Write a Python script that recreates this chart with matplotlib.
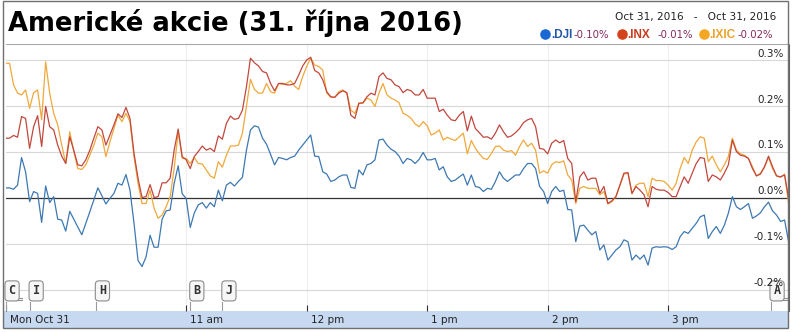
import numpy as np
import matplotlib.pyplot as plt
from matplotlib.patches import Rectangle
from matplotlib.lines import Line2D

W, H = 794, 332

# minutes after the 9:30 open, one quote every 2 minutes
minutes = np.arange(0, 392, 2)

# % change vs previous close
dji = [0.022, 0.022, 0.019, 0.028, 0.088, 0.057, -0.008, 0.014, 0.010, -0.053,
       0.026, -0.010, 0.003, -0.046, -0.048, -0.072, -0.029, -0.046, -0.063, -0.080,
       -0.055, -0.030, -0.004, 0.022, 0.005, -0.013, -0.001, 0.010, 0.032, 0.028,
       0.051, 0.017, -0.055, -0.136, -0.149, -0.128, -0.081, -0.107, -0.107, -0.046,
       -0.028, -0.026, 0.032, 0.070, 0.009, -0.001, -0.064, -0.033, -0.015, -0.010,
       -0.022, -0.010, -0.019, 0.017, -0.006, 0.028, 0.034, 0.026, 0.036, 0.045,
       0.104, 0.148, 0.157, 0.154, 0.130, 0.117, 0.095, 0.072, 0.088, 0.086,
       0.083, 0.088, 0.091, 0.104, 0.115, 0.126, 0.137, 0.091, 0.090, 0.057,
       0.052, 0.036, 0.039, 0.046, 0.050, 0.050, 0.023, 0.021, 0.061, 0.050,
       0.072, 0.075, 0.083, 0.126, 0.128, 0.115, 0.106, 0.101, 0.091, 0.075,
       0.086, 0.083, 0.075, 0.084, 0.099, 0.083, 0.083, 0.086, 0.061, 0.068,
       0.046, 0.036, 0.039, 0.046, 0.052, 0.028, 0.050, 0.025, 0.023, 0.014,
       0.021, 0.019, 0.036, 0.057, 0.043, 0.036, 0.043, 0.050, 0.050, 0.064,
       0.075, 0.075, 0.064, 0.025, 0.014, -0.012, 0.014, 0.025, 0.014, 0.017,
       -0.025, -0.026, -0.095, -0.061, -0.059, -0.070, -0.080, -0.073, -0.113, -0.102,
       -0.135, -0.124, -0.113, -0.106, -0.091, -0.095, -0.135, -0.124, -0.133, -0.124,
       -0.146, -0.109, -0.106, -0.107, -0.106, -0.107, -0.112, -0.106, -0.084, -0.073,
       -0.077, -0.066, -0.055, -0.041, -0.037, -0.088, -0.073, -0.062, -0.077, -0.059,
       -0.033, 0.003, -0.019, -0.025, -0.019, -0.012, -0.044, -0.039, -0.032, -0.019,
       -0.009, -0.028, -0.037, -0.051, -0.048, -0.095]

inx = [0.130, 0.130, 0.136, 0.132, 0.177, 0.173, 0.108, 0.155, 0.179, 0.112,
       0.199, 0.155, 0.148, 0.115, 0.091, 0.075, 0.133, 0.104, 0.072, 0.070,
       0.083, 0.104, 0.130, 0.155, 0.148, 0.115, 0.137, 0.159, 0.183, 0.175,
       0.197, 0.173, 0.097, 0.043, 0.001, 0.003, 0.029, 0.001, 0.003, 0.033,
       0.033, 0.043, 0.104, 0.150, 0.090, 0.083, 0.064, 0.090, 0.101, 0.113,
       0.104, 0.108, 0.101, 0.135, 0.128, 0.162, 0.178, 0.171, 0.173, 0.191,
       0.242, 0.304, 0.294, 0.287, 0.275, 0.272, 0.249, 0.233, 0.249, 0.249,
       0.246, 0.246, 0.249, 0.267, 0.287, 0.300, 0.306, 0.277, 0.272, 0.257,
       0.231, 0.220, 0.219, 0.228, 0.233, 0.229, 0.180, 0.173, 0.206, 0.207,
       0.220, 0.228, 0.224, 0.264, 0.272, 0.260, 0.257, 0.246, 0.242, 0.229,
       0.236, 0.233, 0.224, 0.224, 0.236, 0.217, 0.217, 0.217, 0.188, 0.193,
       0.180, 0.170, 0.168, 0.180, 0.188, 0.146, 0.178, 0.151, 0.142, 0.132,
       0.133, 0.128, 0.141, 0.159, 0.144, 0.132, 0.135, 0.142, 0.151, 0.164,
       0.170, 0.173, 0.155, 0.108, 0.106, 0.096, 0.119, 0.126, 0.120, 0.125,
       0.086, 0.075, -0.008, 0.046, 0.057, 0.039, 0.043, 0.043, 0.010, 0.025,
       -0.012, -0.006, 0.003, 0.028, 0.054, 0.055, 0.010, 0.025, 0.017, 0.007,
       -0.019, 0.025, 0.019, 0.017, 0.017, 0.012, 0.003, 0.003, 0.025, 0.046,
       0.032, 0.054, 0.075, 0.088, 0.086, 0.036, 0.050, 0.046, 0.039, 0.054,
       0.072, 0.126, 0.101, 0.093, 0.091, 0.086, 0.064, 0.048, 0.052, 0.068,
       0.091, 0.068, 0.048, 0.046, 0.050, -0.001]

ixic = [0.293, 0.293, 0.246, 0.228, 0.224, 0.235, 0.195, 0.229, 0.235, 0.170,
        0.296, 0.228, 0.184, 0.159, 0.115, 0.075, 0.144, 0.101, 0.064, 0.062,
        0.072, 0.093, 0.115, 0.141, 0.133, 0.090, 0.122, 0.151, 0.180, 0.166,
        0.184, 0.166, 0.090, 0.032, -0.012, -0.012, 0.017, -0.022, -0.044, -0.037,
        -0.019, 0.003, 0.064, 0.144, 0.086, 0.086, 0.075, 0.088, 0.075, 0.074,
        0.061, 0.048, 0.043, 0.079, 0.067, 0.093, 0.113, 0.113, 0.115, 0.141,
        0.199, 0.258, 0.236, 0.228, 0.228, 0.249, 0.231, 0.228, 0.249, 0.247,
        0.249, 0.255, 0.243, 0.236, 0.264, 0.286, 0.304, 0.289, 0.286, 0.278,
        0.228, 0.219, 0.219, 0.231, 0.235, 0.228, 0.191, 0.184, 0.206, 0.206,
        0.217, 0.213, 0.199, 0.228, 0.249, 0.224, 0.217, 0.213, 0.207, 0.184,
        0.180, 0.173, 0.161, 0.155, 0.166, 0.157, 0.137, 0.141, 0.148, 0.126,
        0.132, 0.128, 0.125, 0.133, 0.141, 0.096, 0.125, 0.108, 0.096, 0.086,
        0.084, 0.097, 0.112, 0.113, 0.104, 0.101, 0.103, 0.093, 0.112, 0.126,
        0.112, 0.119, 0.104, 0.054, 0.059, 0.054, 0.072, 0.079, 0.077, 0.081,
        0.050, 0.039, -0.012, 0.021, 0.025, 0.021, 0.021, 0.021, 0.007, 0.014,
        -0.013, -0.008, 0.003, 0.028, 0.052, 0.054, 0.009, 0.028, 0.032, 0.032,
        0.003, 0.043, 0.038, 0.038, 0.036, 0.028, 0.017, 0.032, 0.064, 0.088,
        0.075, 0.104, 0.122, 0.133, 0.130, 0.079, 0.091, 0.072, 0.057, 0.072,
        0.090, 0.130, 0.104, 0.096, 0.093, 0.086, 0.068, 0.048, 0.054, 0.067,
        0.088, 0.064, 0.048, 0.045, 0.052, -0.012]

hour_ticks = [0, 90, 150, 210, 270, 330]
hour_labels = ["Mon Oct 31", "11 am", "12 pm", "1 pm", "2 pm", "3 pm"]
y_ticks = [0.3, 0.2, 0.1, 0.0, -0.1, -0.2]
y_labels = ["0.3%", "0.2%", "0.1%", "0.0%", "-0.1%", "-0.2%"]

# news flags (minute, letter, stacked?)
flag_times = [0, 12, 45, 92, 108, 381]
flag_letters = ["C", "I", "H", "B", "J", "A"]
flag_stacked = [True, False, False, False, False, True]

legend_names = [".DJI", ".INX", ".IXIC"]
legend_changes = ["-0.10%", "-0.01%", "-0.02%"]

title = "Americké akcie (31. října 2016)"
date_range = "Oct 31, 2016   -   Oct 31, 2016"

line_colors = ["#3d78b2", "#c2473d", "#f0a83a"]
dot_colors = ["#1967d2", "#d4431b", "#f5a623"]
name_colors = ["#2356a8", "#c83b1c", "#eba12a"]
pct_color = "#84285c"
# legend pixel layout: dot centre, name start, change start
legend_px = [(545, 551.5, 574), (621.5, 627.5, 657), (703.5, 709.5, 737.5)]


def fx(px):
    return px / W


def fy(py):
    return 1 - py / H


fig = plt.figure(figsize=(W / 100, H / 100), dpi=100)
ax = fig.add_axes([fx(5.5), fy(311), fx(788.6) - fx(5.5), fy(44) - fy(311)])
ax.set_xlim(0, 390)
ax.set_ylim(-0.2457, 0.3348)

# grid
for v in y_ticks:
    if v == 0:
        ax.axhline(v, color="#333333", lw=0.9, zorder=2)
    else:
        ax.axhline(v, color="#d8d8d8", lw=0.8, zorder=1)
for t in hour_ticks[1:]:
    ax.axvline(t, color="#eeeeee", lw=0.8, zorder=0)

ax.plot(minutes, dji, color=line_colors[0], lw=0.9, zorder=3)
ax.plot(minutes, ixic, color=line_colors[2], lw=0.9, zorder=3)
ax.plot(minutes, inx, color=line_colors[1], lw=0.9, zorder=3)

ax.set_xticks(hour_ticks)
ax.set_yticks([])
ax.tick_params(axis="x", direction="in", length=4, width=0.8, color="#333333",
               labelbottom=False)
for s in ["left", "bottom"]:
    ax.spines[s].set_visible(False)
ax.spines["top"].set_color("#aaaaaa")
ax.spines["right"].set_color("#666666")

for v, lab in zip(y_ticks, y_labels):
    ax.annotate(lab, xy=(1, v), xycoords=("axes fraction", "data"),
                xytext=(-5, 1.5), textcoords="offset pixels", ha="right",
                va="bottom", fontsize=7.5, color="#222222", zorder=6)

for t, lab in zip(hour_ticks, hour_labels):
    ax.annotate(lab, xy=(t, 0), xycoords=("data", "axes fraction"),
                xytext=(4, -9), textcoords="offset pixels", ha="left",
                va="center", fontsize=7.5, color="#222222", annotation_clip=False)

# news flags
flag_box = dict(boxstyle="round,pad=0.3", fc="#f6f6f6", ec="#8c8c8c", lw=0.8)
for t, letter, stacked in zip(flag_times, flag_letters, flag_stacked):
    ax.plot([t, t], [-0.226, -0.2457], color="#9a9a9a", lw=0.8, zorder=4)
    if stacked:
        # edges of the flags hidden underneath
        for yv in [-0.2175, -0.2215]:
            ax.plot([t + 0.3, t + 8], [yv, yv], color="#8c8c8c", lw=0.8, zorder=4)
    ax.annotate(letter, xy=(t, -0.202), xytext=(3, 0), textcoords="offset pixels",
                ha="left", va="center", fontsize=8.5, fontweight="bold",
                family="DejaVu Sans Mono", color="#333333", bbox=flag_box, zorder=5)

# x axis band and outer frame
fig.add_artist(Rectangle((fx(3), fy(328)), fx(788) - fx(3), fy(311) - fy(328),
                         transform=fig.transFigure, fc="#c6d9f1", ec="none", zorder=-1))
fig.add_artist(Rectangle((fx(3), fy(328)), fx(788) - fx(3), fy(1) - fy(328),
                         transform=fig.transFigure, fc="none", ec="#6f6f6f", lw=1.0))

# title
fig.text(fx(8), fy(31), title, fontsize=18.6, fontweight="bold",
         family="DejaVu Sans", va="baseline", color="black")

# legend
fig.text(fx(776), fy(20), date_range, ha="right", va="baseline", fontsize=7.6,
         color="#222222")
for i, (dot_x, name_x, pct_x) in enumerate(legend_px):
    fig.add_artist(Line2D([fx(dot_x)], [fy(34)], marker="o", markersize=6.6, lw=0,
                          color=dot_colors[i], transform=fig.transFigure))
    fig.text(fx(name_x), fy(38.5), legend_names[i], fontsize=8.5, fontweight="bold",
             family="Liberation Sans", color=name_colors[i], va="baseline")
    fig.text(fx(pct_x), fy(38.5), legend_changes[i], fontsize=7.3,
             color=pct_color, va="baseline")

fig.savefig("out.png", dpi=100)
